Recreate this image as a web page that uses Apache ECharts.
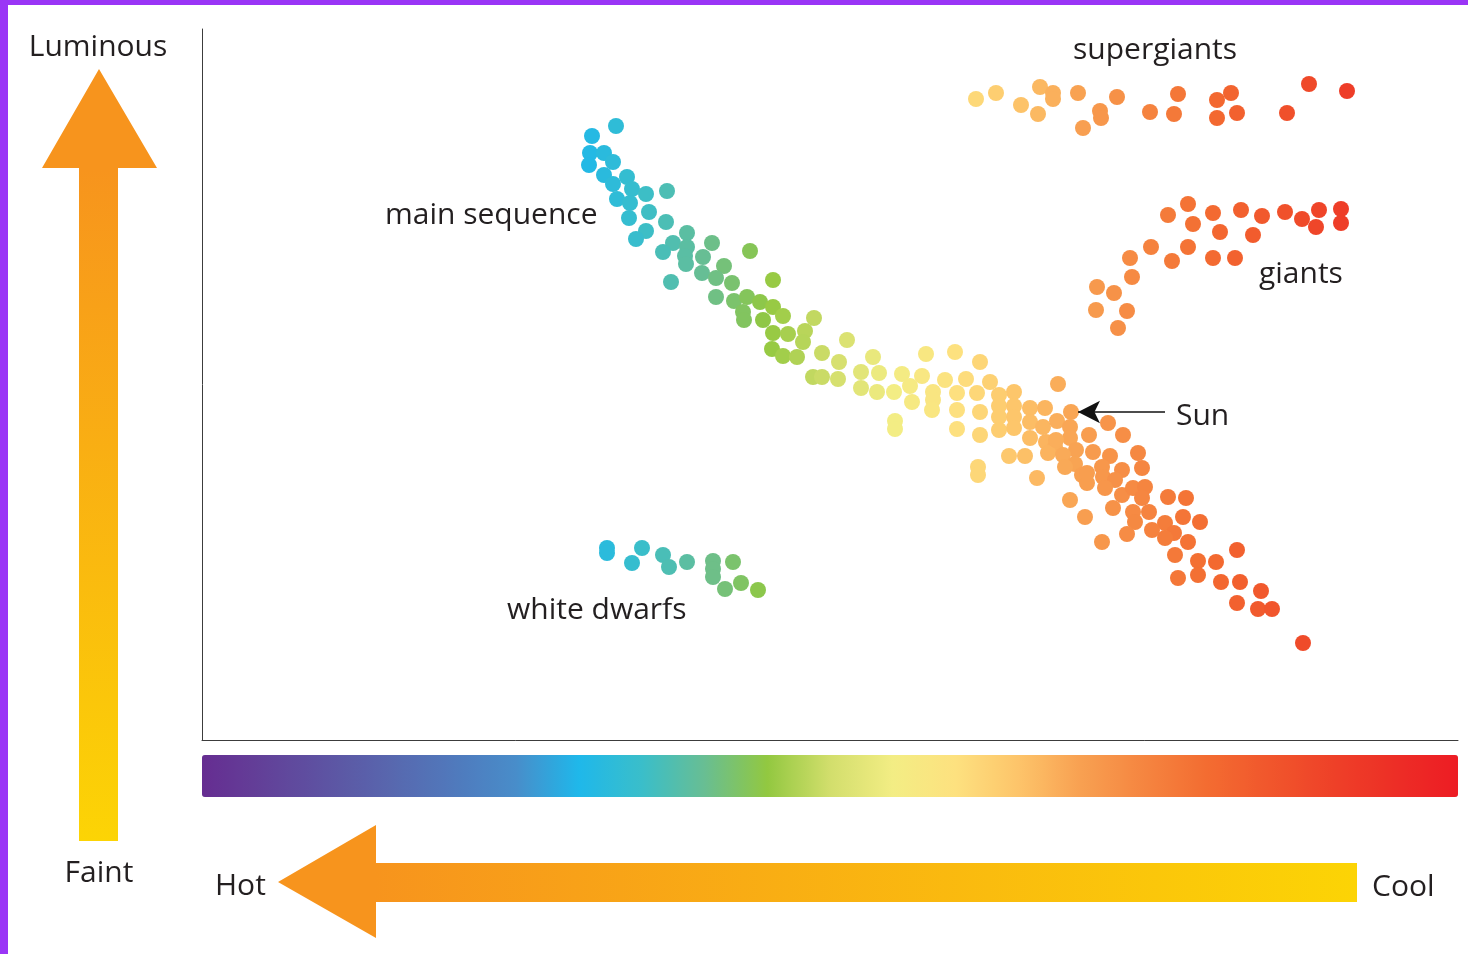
<!DOCTYPE html>
<html>
<head>
<meta charset="utf-8">
<script src="https://cdn.jsdelivr.net/npm/echarts@6/dist/echarts.min.js"></script>
<style>
  html, body { margin: 0; padding: 0; background: #fff; }
  #chart { width: 1468px; height: 954px; }
</style>
</head>
<body>
<div id="chart"></div>
<script>
// units: temperature index (0 = hottest, left) and luminosity index (0 = faint)
const mainSequence = [
  [414,614],[390,604],[388,587],[402,587],[411,578],[387,575],[402,565],[425,563],
  [411,556],[430,551],[444,546],[465,549],[415,541],[428,537],[447,528],[427,522],
  [464,518],[444,509],[434,501],[485,507],[471,497],[461,488],[485,493],[483,484],
  [501,483],[510,497],[548,489],[484,476],[522,474],[500,467],[514,462],[530,457],
  [469,458],[571,460],[514,443],[532,439],[545,443],[558,438],[571,433],[541,428],
  [542,420],[581,424],[561,420],[612,422],[571,407],[586,406],[603,409],[601,398],
  [570,391],[581,384],[595,383],[620,387],[645,400],[637,378],[611,363],[620,363],
  [636,361],[671,383],[659,368],[677,367],[659,352],[675,348],[692,348],[700,366],
  [708,354],[710,338],[720,364],[724,386],[693,319],[693,311],[731,348],[731,340],
  [730,330],[743,360],[753,388],[755,347],[755,330],[755,311],[764,361],[778,378],
  [775,347],[778,328],[778,305],[776,273],[776,265],[788,358],[797,345],[797,334],
  [797,323],[797,310],[812,348],[812,334],[812,323],[812,312],[807,284],[823,284],
  [828,332],[843,332],[828,318],[841,313],[828,302],[855,319],[856,356],[868,313],
  [844,298],[853,293],[868,302],[874,290],[887,305],[891,288],[846,287],[861,285],
  [873,276],[880,265],[835,262],[885,257],[854,300],[906,317],[921,305],[908,284],
  [936,287],[863,273],[885,267],[900,273],[901,263],[920,270],[913,260],[940,272],
  [903,252],[920,245],[931,252],[943,253],[940,242],[868,240],[883,223],[911,232],
  [931,228],[947,228],[933,218],[966,243],[984,242],[963,217],[972,207],[963,202],
  [950,210],[981,223],[998,218],[986,198],[925,206],[900,198],[973,185],[996,179],
  [1014,178],[1035,190],[976,162],[996,165],[1019,158],[1038,158],[1059,149],
  [1035,137],[1056,131],[1070,131],[1101,97]
];
const sun = [[869,328]];
const supergiants = [
  [774,641],[794,647],[819,635],[838,653],[851,647],[851,641],[836,626],[876,647],
  [898,629],[899,622],[881,612],[915,643],[948,628],[976,646],[972,626],[1015,640],
  [1029,647],[1015,622],[1035,627],[1085,627],[1107,656],[1145,649]
];
const giants = [
  [966,525],[986,536],[1011,527],[1039,530],[1060,524],[1083,528],[1100,521],
  [1117,530],[1114,513],[1139,531],[1139,517],[991,516],[1018,508],[1051,505],
  [949,493],[986,493],[970,479],[1011,482],[1033,482],[928,482],[930,463],
  [895,453],[912,447],[894,430],[925,429],[916,412]
];
const whiteDwarfs = [
  [405,192],[405,187],[440,192],[430,177],[461,185],[467,173],[485,178],[511,179],
  [511,171],[511,163],[531,178],[523,151],[539,157],[556,150]
];
// spectrum from hot (left) to cool (right), evenly spaced over the x range
const spectrum = [
  '#662d91','#624199','#5d54a3','#5867ae','#5079bc','#488dca','#1fb8ea','#3abeca',
  '#68be93','#92c840','#d2de6c','#f3ed84','#fde17f','#fdc46a','#f8a051','#f58540',
  '#f36c31','#f1562c','#ee4128','#ed2e26','#ed1c24'
];
const labels = [
  { text: 'Luminous', x: 98, y: 47, align: 'center' },
  { text: 'Faint', x: 99, y: 873, align: 'center' },
  { text: 'Hot', x: 215, y: 886, align: 'left' },
  { text: 'Cool', x: 1372, y: 887, align: 'left' },
  { text: 'supergiants', x: 1073, y: 50, align: 'left' },
  { text: 'main sequence', x: 385, y: 215, align: 'left' },
  { text: 'giants', x: 1259, y: 274, align: 'left' },
  { text: 'Sun', x: 1176, y: 416, align: 'left' },
  { text: 'white dwarfs', x: 507, y: 610, align: 'left' }
];

const chart = echarts.init(document.getElementById('chart'));

const dotSeries = (name, data) => ({
  name,
  type: 'scatter',
  data,
  symbolSize: 16,
  itemStyle: { opacity: 1 },
  emphasis: { disabled: true }
});

const option = {
  animation: false,
  backgroundColor: '#fff',
  grid: { left: 202, top: 29, width: 1256, height: 711 },
  xAxis: {
    type: 'value', min: 0, max: 1256,
    axisLine: { lineStyle: { color: '#3c3c3c', width: 1 } },
    axisTick: { show: false }, axisLabel: { show: false }, splitLine: { show: false }
  },
  yAxis: {
    type: 'value', min: 0, max: 711,
    axisLine: { show: true, lineStyle: { color: '#3c3c3c', width: 1 } },
    axisTick: { show: false }, axisLabel: { show: false }, splitLine: { show: false }
  },
  visualMap: {
    type: 'continuous',
    dimension: 0,
    min: 0, max: 1256,
    orient: 'horizontal',
    left: 202, top: 755,
    itemWidth: 42, itemHeight: 1256,
    padding: 0,
    calculable: false,
    hoverLink: false,
    text: null,
    inRange: { color: spectrum }
  },
  graphic: [
    { type: 'rect', shape: { x: 0, y: 0, width: 8, height: 954 }, style: { fill: '#9a35f6' }, z: 100 },
    { type: 'rect', shape: { x: 0, y: 0, width: 1468, height: 5 }, style: { fill: '#9a35f6' }, z: 100 },
    {
      type: 'polygon',
      shape: { points: [[79,841],[118,841],[118,168],[157,168],[99,69],[42,168],[79,168]] },
      style: {
        fill: new echarts.graphic.LinearGradient(0, 0, 0, 1, [
          { offset: 0, color: '#f7941d' },
          { offset: 0.13, color: '#f7941d' },
          { offset: 1, color: '#fcd405' }
        ])
      }
    },
    {
      type: 'polygon',
      shape: { points: [[278,882],[376,825],[376,863],[1357,863],[1357,902],[376,902],[376,938]] },
      style: {
        fill: new echarts.graphic.LinearGradient(0, 0, 1, 0, [
          { offset: 0, color: '#f7941d' },
          { offset: 0.09, color: '#f7941d' },
          { offset: 1, color: '#fcd405' }
        ])
      }
    },
    ...labels.map(l => ({
      type: 'text',
      style: {
        text: l.text, x: l.x, y: l.y,
        align: l.align, verticalAlign: 'middle',
        font: '30px "Open Sans", sans-serif',
        fill: '#231f20'
      }
    }))
  ],
  series: [
    dotSeries('main sequence', mainSequence),
    dotSeries('supergiants', supergiants),
    dotSeries('giants', giants),
    dotSeries('white dwarfs', whiteDwarfs),
    Object.assign(dotSeries('Sun', sun), {
      markLine: {
        silent: true,
        symbol: ['none', 'arrow'],
        symbolSize: [17, 22],
        label: { show: false },
        lineStyle: { color: '#111', width: 1.5, type: 'solid' },
        data: [[{ coord: [963, 328] }, { coord: [876, 328] }]]
      }
    })
  ]
};

chart.setOption(option);
</script>
</body>
</html>
